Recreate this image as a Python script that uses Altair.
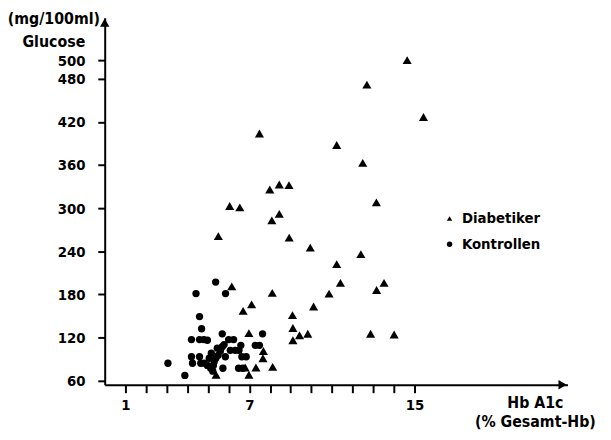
import altair as alt
import pandas as pd

# Diabetiker (triangles)
diab_hba1c = [14.64, 12.69, 15.43, 7.49, 11.23, 12.49, 8.45, 8.92, 7.99, 13.15,
              6.05, 6.54, 8.45, 8.09, 5.50, 8.93, 9.95, 12.40, 11.23, 11.41,
              13.52, 6.15, 13.16, 8.11, 10.86, 7.11, 6.70, 10.11, 9.09, 9.11,
              6.98, 9.43, 9.83, 12.87, 14.01, 9.11, 7.68, 7.66, 6.80, 7.32,
              8.13, 6.98, 5.39]
diab_glucose = [500, 472, 427, 404, 388, 363, 333, 332, 326, 308,
                303, 301, 292, 283, 261, 259, 245, 236, 222, 196,
                196, 191, 186, 182, 181, 166, 157, 163, 151, 133,
                126, 123, 125, 125, 124, 116, 101, 91, 78, 78,
                79, 68, 68]

# Kontrollen (circles)
ctrl_hba1c = [3.06, 3.88, 4.42, 5.37, 5.85, 4.59, 4.69, 4.20, 4.59, 4.80,
              4.97, 4.20, 4.59, 4.25, 4.65, 4.83, 4.97, 5.13, 5.23, 5.30,
              5.38, 5.49, 5.60, 5.69, 5.78, 5.69, 5.72, 5.84, 6.00, 6.24,
              6.08, 6.32, 6.50, 6.59, 6.64, 6.85, 6.48, 6.69, 7.29, 7.49,
              7.64, 5.06, 5.26, 5.45, 5.16]
ctrl_glucose = [84, 67, 181, 197, 181, 149, 132, 117, 117, 117,
                116, 93, 93, 84, 84, 84, 81, 77, 73, 86,
                91, 95, 101, 107, 110, 125, 77, 93, 117, 117,
                102, 102, 102, 109, 93, 93, 77, 77, 109, 109,
                125, 91, 81, 105, 98]

groups = ["Diabetiker", "Kontrollen"]
y_ticks = [60, 120, 180, 240, 300, 360, 420, 480, 500]
x_ticks = list(range(1, 16))
x_labelled = [1, 7, 15]

df = pd.DataFrame({
    "HbA1c": diab_hba1c + ctrl_hba1c,
    "Glucose": diab_glucose + ctrl_glucose,
    "Gruppe": [groups[0]] * len(diab_hba1c) + [groups[1]] * len(ctrl_hba1c),
})

FONT = "DejaVu Sans Condensed, DejaVu Sans"

label_expr = " || ".join(f"datum.value == {v}" for v in x_labelled)

points = alt.Chart(df).mark_point(filled=True, color="black", opacity=1).encode(
    x=alt.X("HbA1c:Q",
            scale=alt.Scale(domain=[0, 22.4], nice=False, zero=False),
            axis=alt.Axis(values=x_ticks,
                          labelExpr=f"({label_expr}) ? datum.label : ''",
                          labelOverlap=False,
                          title=["Hb A1c", "(% Gesamt-Hb)"],
                          titleX=436, titleY=10, titleAlign="center",
                          titleBaseline="top", titleLineHeight=19,
                          tickSize=8, labelPadding=5)),
    y=alt.Y("Glucose:Q",
            # the printed axis is stretched between 480 and 500
            scale=alt.Scale(domain=[54, 480, 500, 565], range=[372, 62, 43, 0],
                            nice=False, zero=False),
            axis=alt.Axis(values=y_ticks, labelOverlap=False,
                          title=["(mg/100ml)", "Glucose"],
                          titleAngle=0, titleX=-52, titleY=-7,
                          titleAlign="center", titleBaseline="top",
                          titleLineHeight=23,
                          tickSize=7, labelPadding=13)),
    shape=alt.Shape("Gruppe:N",
                    scale=alt.Scale(domain=groups, range=["triangle-up", "circle"]),
                    legend=alt.Legend(orient="none", legendX=342, legendY=196,
                                      title=None, labelFontSize=15,
                                      labelFont=FONT, labelFontWeight="bold",
                                      labelColor="black",
                                      symbolSize=30, symbolFillColor="black",
                                      symbolStrokeColor="black",
                                      rowPadding=10, labelOffset=5)),
    size=alt.condition(alt.datum.Gruppe == groups[0], alt.value(85), alt.value(55)),
)

arrow_x = alt.Chart(pd.DataFrame({"a": [0]})).mark_point(
    shape="triangle-right", filled=True, color="black", opacity=1, size=90
).encode(x=alt.value(464), y=alt.value(372))

arrow_y = alt.Chart(pd.DataFrame({"a": [0]})).mark_point(
    shape="triangle-up", filled=True, color="black", opacity=1, size=90
).encode(x=alt.value(0), y=alt.value(5))

chart = alt.layer(points, arrow_x, arrow_y).properties(
    width=469, height=372,
    padding={"left": 98, "top": 7, "right": 36, "bottom": 45},
    autosize=alt.AutoSizeParams(type="none"),
    background="white",
).configure_view(stroke=None).configure_axis(
    grid=False,
    domainColor="black", domainWidth=2,
    tickColor="black", tickWidth=2,
    labelColor="black", labelFont=FONT, labelFontSize=15, labelFontWeight="bold",
    titleColor="black", titleFont=FONT, titleFontSize=16, titleFontWeight="bold",
)

chart.save("out.html", embed_options={"renderer": "svg", "actions": False})
